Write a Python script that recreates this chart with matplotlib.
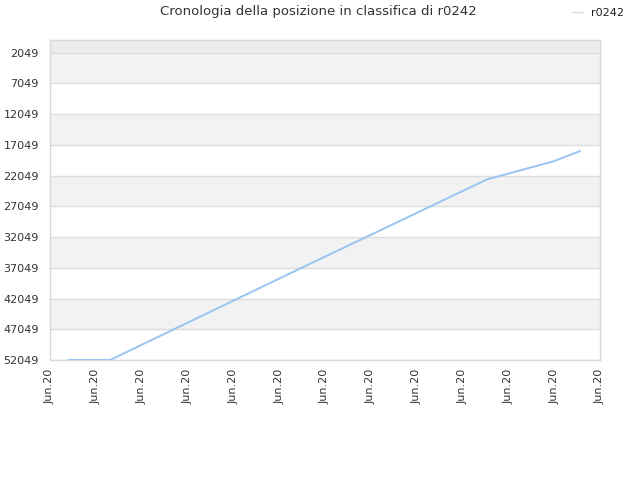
import matplotlib
matplotlib.use("Agg")
import matplotlib.pyplot as plt
import matplotlib.dates as mdates
import pandas as pd

title = "Cronologia della posizione in classifica di r0242"
series_name = "r0242"
dates = ["2020-06-01 10:00", "2020-06-02 07:30", "2020-06-06 10:45",
         "2020-06-10 12:45", "2020-06-11 23:30", "2020-06-12 13:30"]
ranks = [52049, 52049, 37204, 22685, 19749, 18069]
y_ticks = [2049, 7049, 12049, 17049, 22049, 27049, 32049, 37049, 42049, 47049, 52049]
x_ticks = pd.date_range("2020-06-01", "2020-06-13", freq="D")

x = pd.to_datetime(dates)

fig = plt.figure(figsize=(6.4, 4.8), dpi=100)
ax = fig.add_axes([50/640, 1-360/480, 550/640, 320/480])

# bands
ax.axhspan(0, y_ticks[0], color="#ececec", zorder=0, lw=0)
for i in range(len(y_ticks)-1):
    if i % 2 == 0:
        ax.axhspan(y_ticks[i], y_ticks[i+1], color="#f2f2f2", zorder=0, lw=0)
for yt in y_ticks:
    ax.axhline(yt, color="#dedede", lw=1, zorder=1)

ax.plot(x, ranks, color="#99c4f2", lw=1.4, label=series_name, zorder=3)

ax.set_ylim(y_ticks[-1], 0)
ax.set_yticks(y_ticks)
ax.set_yticklabels([str(v) for v in y_ticks])
ax.set_xlim(x_ticks[0], x_ticks[-1])
ax.set_xticks(x_ticks)
ax.xaxis.set_major_formatter(mdates.DateFormatter("%b.%y"))
plt.setp(ax.get_xticklabels(), rotation=90)
ax.tick_params(axis="both", length=0, labelsize=8, colors="#333333", pad=8)
ax.tick_params(axis="x", pad=6)
for s in ax.spines.values():
    s.set_color("#d8d8d8")
    s.set_linewidth(1)

fig.text(318/640, 1-12/480, title, ha="center", va="center", fontsize=9.5, color="#333333")
leg = fig.legend(handles=ax.get_lines(), labels=[series_name], loc="center",
                 bbox_to_anchor=(598/640, 1-13/480), frameon=False, fontsize=8,
                 handlelength=1.0, handletextpad=0.8)
for t in leg.get_texts():
    t.set_color("#222222")

fig.savefig("out.png", dpi=100)
